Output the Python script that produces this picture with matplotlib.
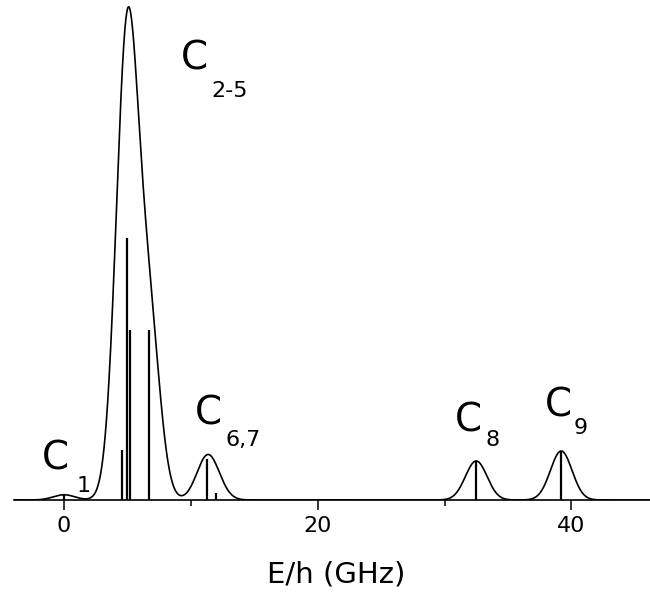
import numpy as np
import matplotlib
matplotlib.use("Agg")
import matplotlib.pyplot as plt

plt.rcParams['font.family'] = ['DejaVu Sans']

# Stick spectrum: transition energies (GHz) and relative intensities
stick_energy = [0.0, 4.54, 4.93, 5.22, 6.72, 11.29, 11.97, 32.5, 39.2]
stick_height = [0.02, 0.19, 1.0, 0.65, 0.65, 0.155, 0.025, 0.149, 0.187]

# Gaussian broadening width (GHz) used for the envelope
broadening_sigma = 0.85

# Peak labels: main letter, subscript
label_main = ["C", "C", "C", "C", "C"]
label_sub = ["1", "2-5", "6,7", "8", "9"]
xticks_major = [0, 20, 40]
xticks_minor = [10, 30]
xlabel = "E/h (GHz)"

fig = plt.figure(figsize=(6.5, 5.93), dpi=100)
ax = fig.add_axes([14/650, 93/593, 1 - 14/650, 500/593])

x = np.linspace(-3.94, 46.2, 4000)
env = np.zeros_like(x)
for e, h in zip(stick_energy, stick_height):
    env += h * np.exp(-(x - e) ** 2 / (2 * broadening_sigma ** 2))
ax.plot(x, env, color='black', lw=1.2, solid_capstyle='butt')
ax.vlines(stick_energy, 0, stick_height, color='black', lw=1.6)

ax.set_xlim(-3.94, 46.2)
ax.set_ylim(0, 500/262)
for s in ['left', 'top', 'right']:
    ax.spines[s].set_visible(False)
ax.spines['bottom'].set_linewidth(1.2)
ax.set_yticks([])
ax.set_xticks(xticks_major)
ax.set_xticks(xticks_minor, minor=True)
ax.set_xticklabels([str(t) for t in xticks_major], fontsize=16)
ax.tick_params(axis='x', which='major', direction='out', length=7.2, width=1.1, pad=4)
ax.tick_params(axis='x', which='minor', direction='out', length=4, width=1.1)
ax.set_xlabel(xlabel, fontsize=21, va='baseline')
ax.xaxis.set_label_coords(0.506, -0.164)

# label positions (data coords): main letter and subscript
main_pos = [(-1.75, 0.118), (9.2, 1.645), (10.35, 0.29), (30.85, 0.263), (37.9, 0.317)]
sub_pos = [(1.0, 0.03), (11.6, 1.538), (12.75, 0.206), (33.2, 0.207), (40.2, 0.252)]
for m, s, pm, ps in zip(label_main, label_sub, main_pos, sub_pos):
    ax.text(pm[0], pm[1], m, fontsize=28, ha='left', va='baseline')
    ax.text(ps[0], ps[1], s, fontsize=16, ha='left', va='baseline')

fig.savefig("out.png", dpi=100)
